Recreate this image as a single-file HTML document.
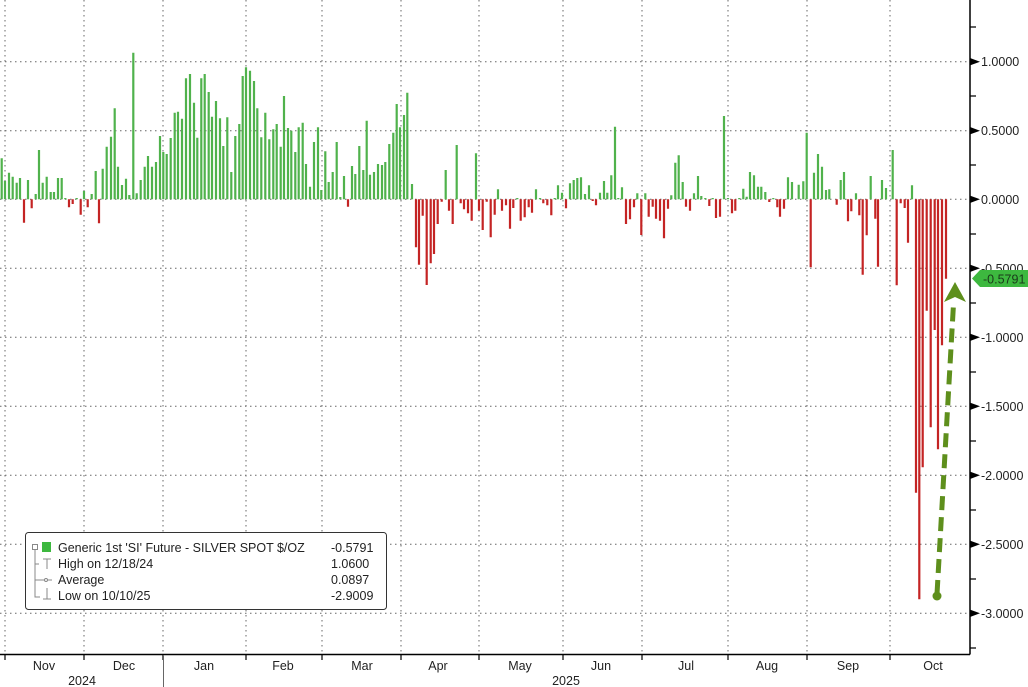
<!DOCTYPE html>
<html><head><meta charset="utf-8"><style>
html,body{margin:0;padding:0;background:#fff;}
svg{display:block;font-family:"Liberation Sans","DejaVu Sans",sans-serif;}
</style></head><body>
<svg width="1028" height="687" viewBox="0 0 1028 687" xmlns="http://www.w3.org/2000/svg">
<rect width="1028" height="687" fill="#fff"/>
<g stroke="#666" stroke-width="1" stroke-dasharray="1.5,3.5">
<path d="M0 61.7H970M0 130.7H970M0 199.3H970M0 268.3H970M0 337.3H970M0 406.3H970M0 475.3H970M0 544.3H970M0 613.3H970"/>
<path d="M5 0V654M84 0V654M163 0V654M246 0V654M322 0V654M401 0V654M479 0V654M563 0V654M642 0V654M728 0V654M807 0V654M890 0V654"/>
</g>
<g stroke="#50b24c" stroke-width="2.2" fill="none">
<path d="M1.7 199.3V158.3M5 199.3V181M9 199.3V172.7M12.7 199.3V176.7M16.7 199.3V182.7M20 199.3V178M28 199.3V180M35.7 199.3V194M39 199.3V150M42.7 199.3V182.7M46.7 199.3V176.7M50.7 199.3V192M54 199.3V192M58 199.3V178M61.7 199.3V178M65.3 199.3V198M76.7 199.3V198M84 199.3V191M91.7 199.3V194M95.7 199.3V171M102.7 199.3V168.7M106.7 199.3V146.7M111 199.3V136.7M114.7 199.3V108.3M118 199.3V166.7M122 199.3V185M126 199.3V178.7M129.3 199.3V195M133.3 199.3V52.7M136.7 199.3V193.3M140.7 199.3V180M144.7 199.3V166.7M148 199.3V156M152 199.3V166.7M156 199.3V162M160 199.3V136M163.3 199.3V152M166.7 199.3V154M170.7 199.3V138M174.7 199.3V112.7M178 199.3V111.7M182 199.3V118.7M186 199.3V78.3M190 199.3V74M194 199.3V102.7M197.3 199.3V137.7M201.3 199.3V78.3M204.7 199.3V74M208.7 199.3V92M212 199.3V116.7M216 199.3V101M220 199.3V118.3M223.3 199.3V146M227.3 199.3V117.3M231.3 199.3V172M235.3 199.3V136M239.3 199.3V124M242.7 199.3V76M246 199.3V67.3M250 199.3V70.7M254 199.3V81M257.3 199.3V108.3M261.3 199.3V137.3M265.3 199.3V112.7M269.3 199.3V139.3M273.3 199.3V129.3M276.7 199.3V124M280.7 199.3V146.7M284 199.3V96M288 199.3V128M291.3 199.3V130.7M295.3 199.3V152M298.7 199.3V127.3M302.7 199.3V122.7M306 199.3V164M310 199.3V186.7M314 199.3V142M318 199.3V127.3M321.3 199.3V190M325.3 199.3V151.3M328.7 199.3V182M332.7 199.3V172M336.7 199.3V142M340.3 199.3V197M344 199.3V176M352 199.3V166M355.3 199.3V174M359.3 199.3V146M363.3 199.3V170M366.7 199.3V120.7M370 199.3V174.7M374 199.3V172M378 199.3V164M382 199.3V165M385.3 199.3V162M389.3 199.3V144M393.3 199.3V132.7M396.7 199.3V104M400 199.3V127.3M404 199.3V115M407.3 199.3V92.7M412 199.3V184"/>
<path d="M445.7 199.3V170M456.7 199.3V145M476 199.3V153.3M498 199.3V189.3M517.3 199.3V198M536 199.3V189.3M540 199.3V198M554.7 199.3V198M558 199.3V185.3M562 199.3V192.7M570 199.3V183.3M573.7 199.3V180M577.3 199.3V178M581 199.3V177.3M585 199.3V194M589 199.3V185.3M600 199.3V192.7M604 199.3V181M607.3 199.3V192.7M611.3 199.3V175.3M615 199.3V126.7M618.3 199.3V198M622 199.3V187.3M637.3 199.3V193.3M645.3 199.3V193.3M671.3 199.3V195.3M675.3 199.3V162.7M678.7 199.3V155.3M682.7 199.3V182M694 199.3V193.3M698 199.3V176M701.3 199.3V196M705.3 199.3V198M712.7 199.3V198M724 199.3V116M728 199.3V198M739.3 199.3V198M743.3 199.3V188.7M746.7 199.3V196.7M750 199.3V172M754 199.3V175.3M758 199.3V186.7M761.3 199.3V186.7M765.3 199.3V192M773.3 199.3V198M788 199.3V177.3M792 199.3V182M798.7 199.3V184.7M803.3 199.3V181.3M806.7 199.3V132.7M814 199.3V172.7M818 199.3V154M822 199.3V166.7M826 199.3V190M829.3 199.3V189.3M840.7 199.3V180M844 199.3V172M856 199.3V193.3M870.7 199.3V176M882 199.3V180M886 199.3V188M892.7 199.3V150M912 199.3V185.3"/>
</g>
<g stroke="#c42424" stroke-width="2.2" fill="none">
<path d="M24 199.3V222.7M31.7 199.3V208.3M69 199.3V207.3M72.7 199.3V204M80.7 199.3V214.7M87.7 199.3V207.3M99 199.3V223.3M348 199.3V206.7"/>
<path d="M416 199.3V247.3M419 199.3V264.7M422.7 199.3V215.7M426.7 199.3V285M430.7 199.3V263.3M434 199.3V254M437.7 199.3V224M441.7 199.3V201.7M449 199.3V210.7M452.7 199.3V224M460.7 199.3V203.3M464 199.3V209.3M468 199.3V213.3M471.7 199.3V220.7M479 199.3V210.7M482.7 199.3V230M486.7 199.3V201.7M490.7 199.3V237.3M494.7 199.3V214.7M502 199.3V210.7M506 199.3V205.3M510 199.3V228.7M513.3 199.3V208M520.7 199.3V220.7M524.7 199.3V217.3M528.7 199.3V207.3M532 199.3V212.7M543.3 199.3V203.3M547.3 199.3V205.3M551.3 199.3V215.3M566 199.3V208.3M592.7 199.3V201M596 199.3V205.3M626 199.3V224M630 199.3V219.3M634 199.3V207.3M641.3 199.3V235M648.7 199.3V216.7M652.7 199.3V206.7M656 199.3V218.7M660 199.3V220.7M664 199.3V238.3M668 199.3V208.7M686 199.3V206.7M690 199.3V210.7M709.3 199.3V206M716 199.3V218M720 199.3V216.7M732 199.3V213.3M735.3 199.3V210.7M769.3 199.3V202M777.3 199.3V207.3M780 199.3V216.7M784 199.3V208.7M810.7 199.3V267.3M836.7 199.3V204.7M848 199.3V221.3M851.3 199.3V211.3M859.3 199.3V215.3M862.7 199.3V274.7M866.7 199.3V235.3M875.3 199.3V218.7M878 199.3V266.7M896.7 199.3V285.3M900.7 199.3V203.3M904.7 199.3V208M908 199.3V242.7M916 199.3V492.7M919.3 199.3V599.3M922.7 199.3V467.3M926.7 199.3V310.7M930.7 199.3V427.3M934.7 199.3V330M938 199.3V449.3M942 199.3V345.3M946 199.3V278.7"/>
</g>
<path d="M970 0V654.5M0 654.5H970" stroke="#000" stroke-width="1.5" fill="none"/>
<g stroke="#000" stroke-width="1.2">
<path d="M970 27H976M970 96H976M970 165H976M970 234H976M970 303H976M970 372H976M970 441H976M970 510H976M970 579H976M970 648H976"/>
<path d="M5 655V660M84 655V660M163 655V660M246 655V660M322 655V660M401 655V660M479 655V660M563 655V660M642 655V660M728 655V660M807 655V660M890 655V660"/>
<path d="M163.5 655V687" stroke="#666" stroke-width="1"/>
</g>
<g fill="#000">
<path d="M970 58L980 61.7L970 65.4Z"/><path d="M970 127L980 130.7L970 134.4Z"/><path d="M970 195.6L980 199.3L970 203Z"/><path d="M970 264.6L980 268.3L970 272Z"/><path d="M970 333.6L980 337.3L970 341Z"/><path d="M970 402.6L980 406.3L970 410Z"/><path d="M970 471.6L980 475.3L970 479Z"/><path d="M970 540.6L980 544.3L970 548Z"/><path d="M970 609.6L980 613.3L970 617Z"/>
</g>
<g font-size="12.5" fill="#222">
<text x="981" y="66">1.0000</text>
<text x="981" y="135">0.5000</text>
<text x="981" y="204">0.0000</text>
<text x="981" y="273">-0.5000</text>
<text x="981" y="342">-1.0000</text>
<text x="981" y="411">-1.5000</text>
<text x="981" y="480">-2.0000</text>
<text x="981" y="549">-2.5000</text>
<text x="981" y="618">-3.0000</text>
</g>
<path d="M972 278.5L980 270H1028V287H980Z" fill="#3db83f"/>
<text x="983" y="283.5" font-size="12.5" fill="#1a3a1a">-0.5791</text>
<g font-size="12.5" fill="#222" text-anchor="middle">
<text x="44" y="670">Nov</text><text x="124" y="670">Dec</text><text x="204" y="670">Jan</text><text x="283" y="670">Feb</text><text x="362" y="670">Mar</text><text x="438" y="670">Apr</text><text x="520" y="670">May</text><text x="601" y="670">Jun</text><text x="686" y="670">Jul</text><text x="767" y="670">Aug</text><text x="848" y="670">Sep</text><text x="933" y="670">Oct</text>
<text x="82" y="685">2024</text><text x="566" y="685">2025</text>
</g>
<rect x="25.5" y="532.5" width="361" height="77" rx="3" fill="#fff" stroke="#333" stroke-width="1"/>
<g stroke="#888" stroke-width="1" fill="none">
<rect x="32.5" y="544.5" width="5" height="5"/>
<path d="M35 550V597H40M35 564H39M35 580H40"/>
<path d="M43 559H51M47 559V569"/>
<path d="M40 580H52"/>
<path d="M47 588V599M43 599H51"/>
</g>
<rect x="42" y="542" width="9" height="10" fill="#3db83f"/>
<circle cx="46" cy="580" r="1.5" fill="#fff" stroke="#888"/>
<g font-size="12.5" fill="#222">
<text x="58" y="552">Generic 1st 'SI' Future - SILVER SPOT $/OZ</text>
<text x="58" y="568">High on 12/18/24</text>
<text x="58" y="584">Average</text>
<text x="58" y="600">Low on 10/10/25</text>
<text x="331" y="552">-0.5791</text>
<text x="331" y="568">1.0600</text>
<text x="331" y="584">0.0897</text>
<text x="331" y="600">-2.9009</text>
</g>
<line x1="937" y1="594" x2="953.5" y2="304" stroke="#5e8f1c" stroke-width="5" stroke-dasharray="14,7"/>
<circle cx="937" cy="596" r="4.5" fill="#5e8f1c"/>
<path d="M955 282L966 302L955 297L944 302Z" fill="#5e8f1c"/>
</svg>
</body></html>
